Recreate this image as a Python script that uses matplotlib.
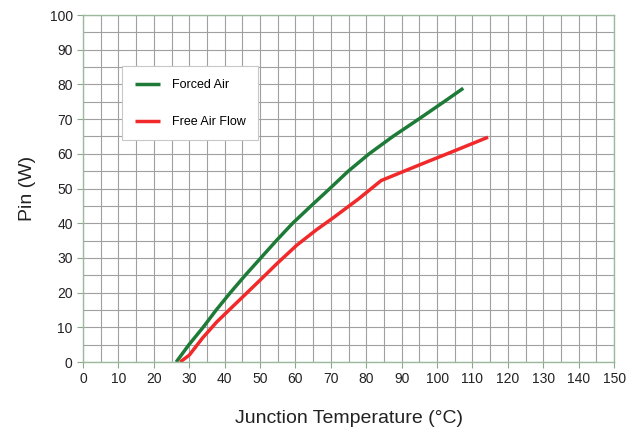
import matplotlib
matplotlib.use("Agg")
import matplotlib.pyplot as plt
import numpy as np

forced_x = [26.3, 29.9, 33.9, 37.6, 41.6, 45.8, 50.2, 54.6, 59.2, 64.4, 69.7, 74.9, 80.8, 87.5, 94.8, 101.8, 107.4]
forced_y = [0.0, 5.0, 10.0, 15.0, 20.0, 25.0, 30.0, 35.0, 40.0, 45.0, 50.0, 55.0, 60.0, 65.0, 70.0, 74.9, 78.9]
free_x = [27.4, 30.0, 33.8, 37.8, 44.0, 50.0, 55.0, 60.4, 65.9, 70.7, 77.8, 84.2, 95.0, 105.0, 114.4]
free_y = [0.0, 2.0, 7.0, 11.6, 17.7, 23.6, 28.6, 33.7, 38.1, 41.6, 47.0, 52.3, 56.8, 60.9, 64.8]

x_ticks = list(range(0, 151, 10))
y_ticks = list(range(0, 101, 10))

plt.rcParams['font.family'] = ['Liberation Sans', 'DejaVu Sans']

fig = plt.figure(figsize=(6.39, 4.29), dpi=100)
ax = fig.add_axes([0.13, 0.156, 0.831, 0.809])

ax.set_xlim(0, 150)
ax.set_ylim(0, 100)
ax.set_xticks(x_ticks)
ax.set_yticks(y_ticks)
ax.set_xticks(np.arange(5, 150, 10), minor=True)
ax.set_yticks(np.arange(5, 100, 10), minor=True)
ax.grid(which='both', color='#a0a0a0', linewidth=0.8)
ax.tick_params(which='minor', length=0)
ax.tick_params(which='major', length=4, width=0.8, color='#8aa88a', labelsize=10, labelcolor='#222222')
for s in ax.spines.values():
    s.set_color('#9db99d')
    s.set_linewidth(1.0)
ax.set_axisbelow(True)

ax.plot(forced_x, forced_y, color='#1e7b37', linewidth=2.5, label='Forced Air', solid_capstyle='butt')
ax.plot(free_x, free_y, color='#f2292b', linewidth=2.5, label='Free Air Flow', solid_capstyle='butt')

leg = ax.legend(loc='upper left', bbox_to_anchor=(0.062, 0.87, 0.28, 0.0), frameon=True, fancybox=False,
                edgecolor='#c8c8c8', framealpha=1, fontsize=9, handlelength=2.0, labelspacing=2.0,
                borderpad=1.0, handletextpad=1.0, mode='expand')
leg.get_frame().set_linewidth(0.8)

ax.set_xlabel('Junction Temperature (°C)', fontsize=14, color='#222222', labelpad=17)
ax.set_ylabel('Pin (W)', fontsize=14, color='#222222', labelpad=10)

fig.savefig('out.png', dpi=100)
